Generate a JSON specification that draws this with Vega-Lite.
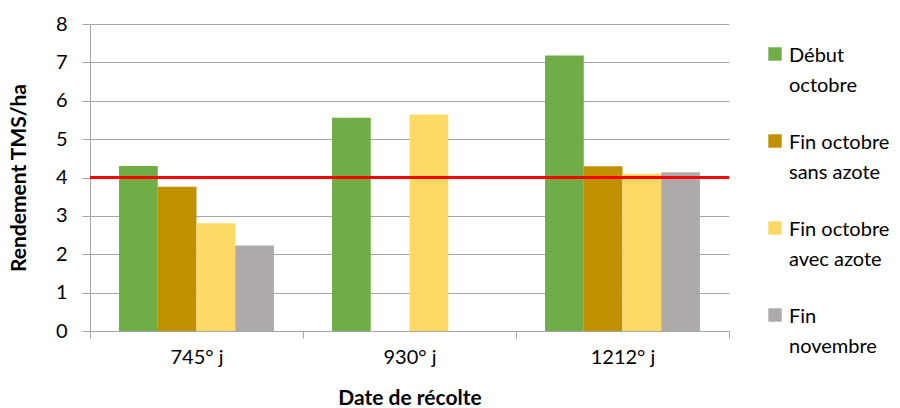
{
  "$schema": "https://vega.github.io/schema/vega-lite/v6.json",
  "width": 639,
  "height": 307,
  "autosize": {"type": "none"},
  "padding": {"left": 90, "top": 24, "right": 171, "bottom": 77},
  "background": "white",
  "config": {
    "font": "Lato",
    "view": {"stroke": null},
    "axis": {"labelFont": "Lato", "titleFont": "Lato", "labelColor": "#000000", "titleColor": "#000000"}
  },
  "data": {
    "values": [
      {"date": "745° j", "serie": "Début octobre", "rendement": 4.30},
      {"date": "745° j", "serie": "Fin octobre sans azote", "rendement": 3.76},
      {"date": "745° j", "serie": "Fin octobre avec azote", "rendement": 2.81},
      {"date": "745° j", "serie": "Fin novembre", "rendement": 2.23},
      {"date": "930° j", "serie": "Début octobre", "rendement": 5.56},
      {"date": "930° j", "serie": "Fin octobre avec azote", "rendement": 5.64},
      {"date": "1212° j", "serie": "Début octobre", "rendement": 7.18},
      {"date": "1212° j", "serie": "Fin octobre sans azote", "rendement": 4.29},
      {"date": "1212° j", "serie": "Fin octobre avec azote", "rendement": 4.10},
      {"date": "1212° j", "serie": "Fin novembre", "rendement": 4.14}
    ]
  },
  "layer": [
    {
      "mark": {"type": "bar"},
      "encoding": {
        "x": {
          "field": "date",
          "type": "nominal",
          "sort": ["745° j", "930° j", "1212° j"],
          "scale": {"paddingInner": 0, "paddingOuter": 0},
          "axis": {
            "title": "Date de récolte",
            "titleFontSize": 21,
            "titleFontWeight": "bold",
            "titlePadding": 20,
            "labelFontSize": 20,
            "labelAngle": 0,
            "labelPadding": 9,
            "tickBand": "extent",
            "tickSize": 7,
            "tickColor": "#A6A6A6",
            "domainColor": "#A6A6A6",
            "grid": false
          }
        },
        "xOffset": {
          "field": "serie",
          "type": "nominal",
          "sort": ["Début octobre", "Fin octobre sans azote", "Fin octobre avec azote", "Fin novembre"],
          "scale": {"paddingInner": 0, "paddingOuter": 0.75}
        },
        "y": {
          "field": "rendement",
          "type": "quantitative",
          "scale": {"domain": [0, 8], "nice": false},
          "axis": {
            "title": "Rendement TMS/ha",
            "titleFontSize": 21,
            "titleFontWeight": "bold",
            "titlePadding": 26,
            "labelFontSize": 20,
            "labelPadding": 15,
            "values": [0, 1, 2, 3, 4, 5, 6, 7, 8],
            "labelOverlap": false,
            "tickSize": 8,
            "tickColor": "#A6A6A6",
            "domainColor": "#A6A6A6",
            "gridColor": "#A6A6A6",
            "grid": true
          }
        },
        "color": {
          "field": "serie",
          "type": "nominal",
          "scale": {
            "domain": ["Début octobre", "Fin octobre sans azote", "Fin octobre avec azote", "Fin novembre"],
            "range": ["#70AD47", "#BF9000", "#FFD966", "#AEAAAA"]
          },
          "legend": {
            "title": null,
            "orient": "right",
            "offset": 16,
            "padding": 20,
            "symbolType": "square",
            "symbolSize": 180,
            "symbolStrokeWidth": 0,
            "labelFontSize": 20,
            "labelFont": "Lato",
            "labelColor": "#000000",
            "labelOffset": 4,
            "labelLimit": 200,
            "labelBaseline": "top",
            "labelExpr": "datum.label == 'Début octobre' ? ['Début', 'octobre'] : datum.label == 'Fin octobre sans azote' ? ['Fin octobre', 'sans azote'] : datum.label == 'Fin octobre avec azote' ? ['Fin octobre', 'avec azote'] : ['Fin', 'novembre']",
            "rowPadding": 35,
            "encode": {
              "labels": {"update": {"dy": {"value": -8}, "lineHeight": {"value": 30}}}
            }
          }
        }
      }
    },
    {
      "mark": {"type": "rule", "color": "#FF0000", "strokeWidth": 3},
      "encoding": {
        "y": {
          "datum": 4,
          "type": "quantitative",
          "axis": {
            "title": "Rendement TMS/ha",
            "values": [0, 1, 2, 3, 4, 5, 6, 7, 8],
            "labelOverlap": false
          }
        }
      }
    }
  ]
}
